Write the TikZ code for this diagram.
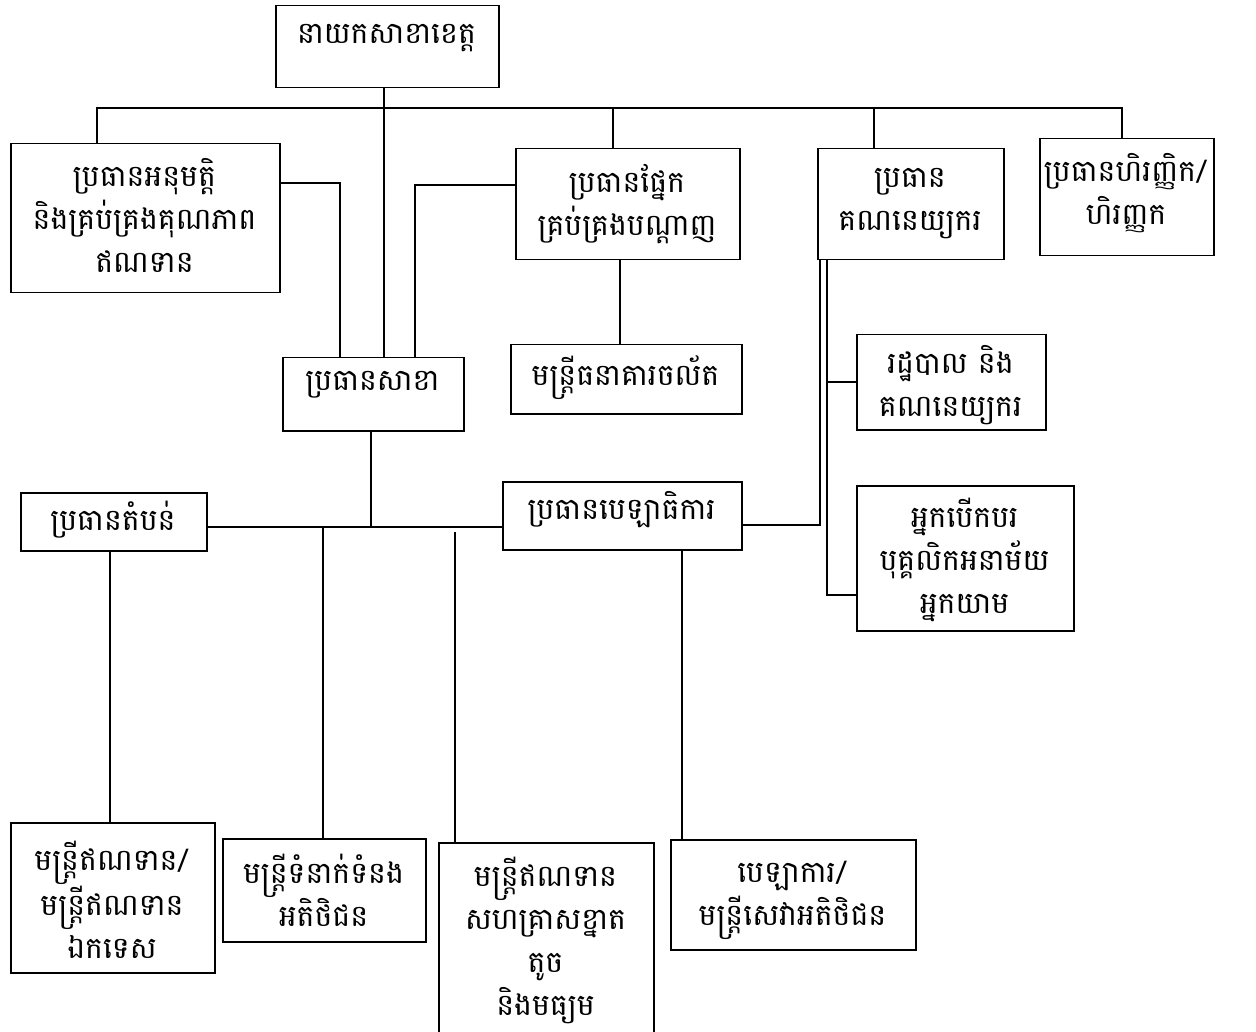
\documentclass[tikz,border=0pt]{standalone}
\usepackage{fontspec}
\newfontfamily\khmer[Script=Khmer]{Battambang}
\usetikzlibrary{calc}
\tikzset{
  x=1pt, y=-1pt,
  orgbox/.style={draw, line width=1.5pt, rectangle, inner sep=0pt, anchor=north west},
  lbl/.style={font=\khmer\fontsize{30}{43}\selectfont, align=center, inner sep=0pt},
  conn/.style={line width=2.8pt}
}
\begin{document}
\begin{tikzpicture}
\useasboundingbox[fill=white] (0,0) rectangle (1256,1032);
% boxes
\node[orgbox, minimum width=223pt, minimum height=82pt]  (b1)  at (275,5) {};
\node[orgbox, minimum width=269pt, minimum height=149pt] (b2)  at (10,143) {};
\node[orgbox, minimum width=224pt, minimum height=111pt] (b3)  at (515,148) {};
\node[orgbox, minimum width=186pt, minimum height=111pt] (b4)  at (817,148) {};
\node[orgbox, minimum width=174pt, minimum height=117pt] (b5)  at (1039,138) {};
\node[orgbox, minimum width=181pt, minimum height=73pt]  (b6)  at (282,357) {};
\node[orgbox, minimum width=231pt, minimum height=69pt]  (b7)  at (510,344) {};
\node[orgbox, minimum width=189pt, minimum height=95pt]  (b8)  at (856,334) {};
\node[orgbox, minimum width=217pt, minimum height=145pt] (b9)  at (856,485) {};
\node[orgbox, minimum width=186pt, minimum height=58pt]  (b10) at (20,492) {};
\node[orgbox, minimum width=239pt, minimum height=68pt]  (b11) at (502,481) {};
\node[orgbox, minimum width=204pt, minimum height=150pt] (b12) at (10,822) {};
\node[orgbox, minimum width=203pt, minimum height=103pt] (b13) at (222,838) {};
\node[orgbox, minimum width=215pt, minimum height=198pt] (b14) at (438,842) {};
\node[orgbox, minimum width=245pt, minimum height=110pt] (b15) at (670,839) {};
% texts
\node[lbl] (t1)  at (386.5,38) {នាយកសាខាខេត្ត};
\node[lbl] (t2)  at (144.5,215) {ប្រធានអនុមត្តិ\\និងគ្រប់គ្រងគុណភាព\\ឥណទាន};
\node[lbl] (t3)  at (627,204) {ប្រធានផ្នែក\\គ្រប់គ្រងបណ្ដាញ};
\node[lbl] (t4)  at (910,204) {ប្រធាន\\គណនេយ្យករ};
\node[lbl] (t5)  at (1126,193) {ប្រធានហិរញ្ញិក/\\ហិរញ្ញក};
\node[lbl] (t6)  at (372.5,385) {ប្រធានសាខា};
\node[lbl] (t7)  at (625.5,378) {មន្ត្រីធនាគារចល័ត};
\node[lbl] (t8)  at (950.5,385) {រដ្ឋបាល និង\\គណនេយ្យករ};
\node[lbl] (t9)  at (964.5,560) {អ្នកបើកបរ\\បុគ្គលិកអនាម័យ\\អ្នកយាម};
\node[lbl] (t10) at (113,520) {ប្រធានតំបន់};
\node[lbl] (t11) at (621.5,510) {ប្រធានបេឡាធិការ};
\node[lbl] (t12) at (112,900) {មន្ត្រីឥណទាន/\\មន្ត្រីឥណទាន\\ឯកទេស};
\node[lbl] (t13) at (323.5,890) {មន្ត្រីទំនាក់ទំនង\\អតិថិជន};
\node[lbl] (t14) at (545.5,940) {មន្ត្រីឥណទាន\\សហគ្រាសខ្នាត\\តូច\\និងមធ្យម};
\node[lbl] (t15) at (792.5,900) {បេឡាការ/\\មន្ត្រីសេវាអតិថិជន};
% junction coordinates
\coordinate (busL) at (97,108);
\coordinate (busR) at (1122,108);
\coordinate (d3) at (613,108);
\coordinate (d4) at (874,108);
\coordinate (top) at (384,87);
\coordinate (j2) at (340,183);
\coordinate (j3) at (415,185);
\coordinate (bus2) at (371,527);
\coordinate (k1) at (820,525);
\coordinate (k2) at (827,595);
\coordinate (k3) at (827,382);
\coordinate (v1) at (110,550);
\coordinate (v2) at (323,527);
\coordinate (v3) at (455,532);
\coordinate (v4) at (682,549);
% connectors
\draw[conn] (b2.north -| busL) |- (busR) -- (b5.north -| busR);
\draw[conn] (d3) -- (d3 |- b3.north);
\draw[conn] (d4) -- (d4 |- b4.north);
\draw[conn] (b1.south -| top) -- (top |- b6.north);
\draw[conn] (b2.east |- j2) -- (j2) -- (j2 |- b6.north);
\draw[conn] (b3.west |- j3) -- (j3) -- (j3 |- b6.north);
\draw[conn] (b3.south -| 620,0) -- (620,0 |- b7.north);
\draw[conn] (b6.south -| bus2) -- (bus2);
\draw[conn] (b10.east |- bus2) -- (b11.west |- bus2);
\draw[conn] (b11.east |- k1) -- (k1) -- (k1 |- b4.south);
\draw[conn] (k2 |- b4.south) -- (k2) -- (k2 -| b9.west);
\draw[conn] (k3) -- (k3 -| b8.west);
\draw[conn] (b10.south -| v1) -- (v1 |- b12.north);
\draw[conn] (v2) -- (v2 |- b13.north);
\draw[conn] (v3) -- (v3 |- b14.north);
\draw[conn] (b11.south -| v4) -- (v4 |- b15.north);
\end{tikzpicture}
\end{document}
